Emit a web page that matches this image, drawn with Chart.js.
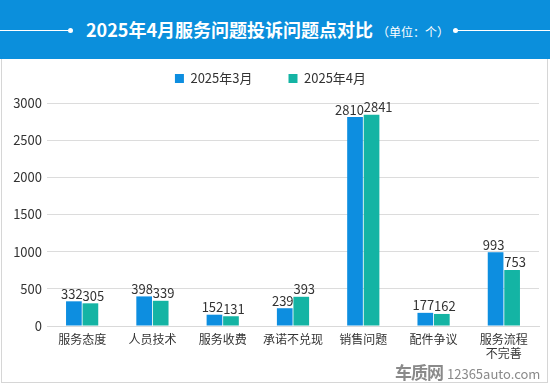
<!DOCTYPE html>
<html>
<head>
<meta charset="utf-8">
<script src="https://cdn.jsdelivr.net/npm/chart.js@4"></script>
<style>
    body { margin: 0; width: 550px; height: 386px; background: #fff; overflow: hidden; font-family: "Noto Sans CJK SC", sans-serif; }
    #header { position: absolute; left: 0; top: 0; width: 550px; height: 59px; background: #0b8fdc; color: #fff; }
    #header .line { position: absolute; top: 30px; height: 1px; background: #fff; }
    #header .dot { position: absolute; top: 28px; width: 5px; height: 5px; border-radius: 50%; background: #fff; }
    #title { position: absolute; top: 16px; left: 86px; white-space: nowrap; font-size: 18px; font-weight: bold; line-height: 26px; }
    #title small { font-size: 12px; font-weight: normal; margin-left: 4px; }
    #panel { position: absolute; left: 1px; top: 59px; width: 545px; height: 323px; border: 1px solid #d6d6d6; border-top: none; }
    #mark { position: absolute; left: 395px; top: 359px; white-space: nowrap; color: #8a8a8a; }
    #mark b { font-size: 17px; letter-spacing: -1px; }
    #mark span { font-size: 13px; margin-left: 4px; }
</style>
</head>
<body>
<div id="header">
    <div class="line" style="left:0;width:69px"></div>
    <div class="dot" style="left:68px"></div>
    <div id="title">2025年4月服务问题投诉问题点对比<small>（单位：个）</small></div>
    <div class="dot" style="left:453px"></div>
    <div class="line" style="left:456px;width:94px"></div>
</div>
<div id="panel"><canvas id="chart" width="545" height="323"></canvas></div>
<div id="mark"><b>车质网</b><span>12365auto.com</span></div>
<script>
const categories = ['服务态度', '人员技术', '服务收费', '承诺不兑现', '销售问题', '配件争议', ['服务流程', '不完善']];
const march = [332, 398, 152, 239, 2810, 177, 993];
const april = [305, 339, 131, 393, 2841, 162, 753];
const seriesNames = ['2025年3月', '2025年4月'];
const yTicks = [0, 500, 1000, 1500, 2000, 2500, 3000];

const font = '"Noto Sans CJK SC", sans-serif';

// numbers above each bar: first series hugs its bar's right edge, second its left edge
const barLabels = {
    id: 'barLabels',
    afterDatasetsDraw(chart) {
        const ctx = chart.ctx;
        ctx.save();
        ctx.font = '13px ' + font;
        ctx.fillStyle = '#333';
        ctx.textBaseline = 'bottom';
        chart.data.datasets.forEach((ds, i) => {
            chart.getDatasetMeta(i).data.forEach((bar, j) => {
                const half = bar.width / 2;
                if (i == 0) {
                    ctx.textAlign = 'right';
                    ctx.fillText(ds.data[j], bar.x + half + 1, bar.y - 1);
                } else {
                    ctx.textAlign = 'left';
                    ctx.fillText(ds.data[j], bar.x - half, bar.y - 1);
                }
            });
        });
        ctx.restore();
    }
};

// leave some extra room under the legend
const legendSpace = {
    id: 'legendSpace',
    afterInit(chart) {
        const legend = chart.legend;
        const fit = legend.fit.bind(legend);
        legend.fit = function () { fit(); this.height += 8; };
    }
};

new Chart(document.getElementById('chart'), {
    type: 'bar',
    data: {
        labels: categories,
        datasets: [
            { label: seriesNames[0], data: march, backgroundColor: '#0d8ee0' },
            { label: seriesNames[1], data: april, backgroundColor: '#14b4a4' }
        ]
    },
    options: {
        responsive: false,
        animation: false,
        events: [],
        layout: { padding: { top: 3, right: 8, bottom: 12, left: 0 } },
        datasets: { bar: { categoryPercentage: 0.47, barPercentage: 0.95 } },
        plugins: {
            legend: {
                labels: {
                    boxWidth: 9, boxHeight: 9, padding: 10,
                    color: '#333', font: { size: 13, family: font },
                    generateLabels(chart) {
                        const items = Chart.defaults.plugins.legend.labels.generateLabels(chart);
                        items[0].text += '\u3000\u3000';
                        return items;
                    }
                }
            },
            tooltip: { enabled: false }
        },
        scales: {
            x: {
                grid: { display: false, drawTicks: false },
                border: { color: '#d9d9d9' },
                ticks: { color: '#333', font: { size: 12, family: font }, padding: 6, maxRotation: 0, autoSkip: false },
                afterFit(scale) { scale.height = 44; }
            },
            y: {
                min: 0, max: 3000,
                afterBuildTicks(scale) { scale.ticks = yTicks.map(v => ({ value: v })); },
                grid: { color: '#dcdcdc', drawTicks: false },
                border: { display: false },
                ticks: { color: '#333', font: { size: 13, family: font }, padding: 5, callback: v => v },
                afterFit(scale) { scale.width = 45; }
            }
        }
    },
    plugins: [barLabels, legendSpace]
});
</script>
</body>
</html>
